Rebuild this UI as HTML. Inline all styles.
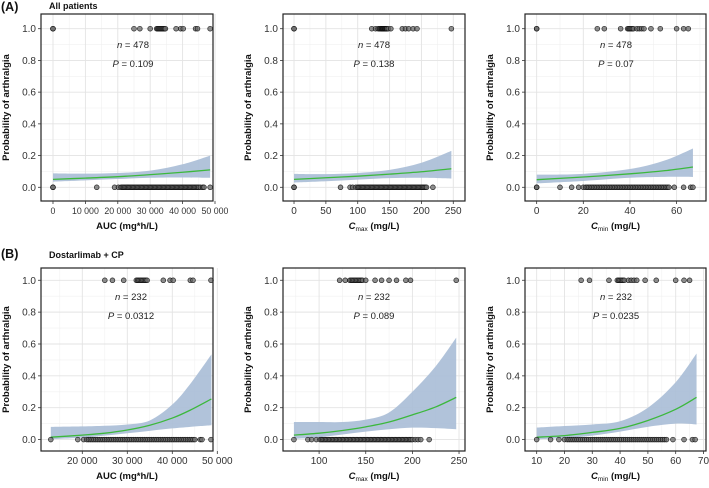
<!DOCTYPE html>
<html><head><meta charset="utf-8"><style>
body{margin:0;background:#fff;}
svg{display:block;font-family:"Liberation Sans",Arial,sans-serif;}
</style></head><body>
<svg id="fig" width="709" height="488" viewBox="0 0 709 488">
<text x="1" y="11" font-size="12.5" font-weight="bold" fill="#111">(A)</text>
<text x="49" y="9" font-size="9" font-weight="bold" fill="#111">All patients</text>
<text x="1" y="258" font-size="12.5" font-weight="bold" fill="#111">(B)</text>
<text x="49" y="258" font-size="9" font-weight="bold" fill="#111">Dostarlimab + CP</text>
</svg>
<script>
// ---- Data ----
const a1Events = [0,0,25000,26800,30000,32000,32300,32600,32900,33200,33500,33800,34100,34400,34700,38000,39400,40200,44000,44600,48500];
const a1NoEvents = [0,0,13500,19000,20200,21000,21400,21800,22200,22600,23000,23400,23800,24200,24600,25000,25400,25800,26200,26600,27000,27400,27800,28200,28600,29000,29400,29800,30200,30600,31000,31400,31800,32200,32600,33000,33400,33800,34200,34600,35000,35400,35800,36200,36600,37000,37400,37800,38200,38600,39000,39400,39800,40200,40600,41000,41400,41800,42200,42600,43000,43400,43800,44200,44600,45000,45500,46200,46600,48500];
const a1FitX = [0,10000,20000,30000,40000,48500];
const a1Fit = [0.05,0.058,0.067,0.08,0.095,0.11];
const a1Lower = [0.036,0.044,0.052,0.06,0.062,0.06];
const a1Upper = [0.088,0.086,0.09,0.105,0.145,0.20];

const a2Events = [0,0,122,128,132,134,135.5,137,138,139,140,141,142,143,144,145,146,148,152,170,175,180,187,193,247];
const a2NoEvents = [0,0,73,88,92,97,100,102,104,106,108,110,112,114,116,118,120,122,124,126,128,130,132,134,136,138,140,142,144,146,148,150,152,154,156,158,160,162,164,166,168,170,172,174,176,178,180,182,184,186,188,190,192,194,196,198,200,202,204,206,208,218];
const a2FitX = [0,50,100,150,200,247];
const a2Fit = [0.05,0.06,0.07,0.083,0.098,0.117];
const a2Lower = [0.03,0.038,0.048,0.058,0.06,0.055];
const a2Upper = [0.085,0.083,0.09,0.11,0.155,0.23];

const a3Events = [0,0,26,29,36,39,39.5,40,40.5,41,41.5,43,44,45,46,49,53,60,63,65];
const a3NoEvents = [0,0,10,15,18,20,21,21.7,22.4,23.1,23.8,24.5,25.2,25.9,26.6,27.3,28,28.7,29.4,30.1,30.8,31.5,32.2,32.9,33.6,34.3,35,35.7,36.4,37.1,37.8,38.5,39.2,39.9,40.6,41.3,42,42.7,43.4,44.1,44.8,45.5,46.2,46.9,47.6,48.3,49,49.7,50.4,51.1,51.8,52.5,53.2,53.9,54.6,55.3,56,56.7,59,63,66,67];
const a3FitX = [0,20,40,55,67];
const a3Fit = [0.048,0.065,0.085,0.105,0.128];
const a3Lower = [0.025,0.04,0.06,0.066,0.065];
const a3Upper = [0.08,0.085,0.115,0.17,0.245];

const b1Events = [25000,26700,29200,32000,32300,32600,32900,33200,33500,33800,34100,34400,38000,39500,40200,44000,44600,48600];
const b1NoEvents = [13000,19000,20300,21000,21400,21800,22200,22600,23000,23400,23800,24200,24600,25000,25400,25800,26200,26600,27000,27400,27800,28200,28600,29000,29400,29800,30200,30600,31000,31400,31800,32200,32600,33000,33400,33800,34200,34600,35000,35400,35800,36200,36600,37000,37400,37800,38200,38600,39000,39400,39800,40200,40600,41000,41400,41800,42200,42600,43000,43400,43800,44200,44600,45000,46200,46600,48600];
const b1FitX = [13000,20000,25000,30000,35000,40000,44000,48700];
const b1Fit = [0.015,0.028,0.04,0.06,0.09,0.135,0.185,0.255];
const b1Lower = [0.002,0.012,0.025,0.04,0.055,0.07,0.08,0.09];
const b1Upper = [0.08,0.083,0.087,0.095,0.12,0.22,0.35,0.535];

const b2Events = [122,128,133,134.5,136,137.5,139,140.5,142,143.5,145,146.5,150,160,167,175,183,193,198,247];
const b2NoEvents = [73,88,92,97,101,102.5,104,105.5,107,108.5,110,111.5,113,114.5,116,117.5,119,120.5,122,123.5,125,126.5,128,129.5,131,132.5,134,135.5,137,138.5,140,141.5,143,144.5,146,147.5,149,150.5,152,153.5,155,156.5,158,159.5,161,162.5,164,165.5,167,168.5,170,171.5,173,174.5,176,177.5,179,180.5,182,183.5,185,186.5,188,189.5,191,192.5,194,195.5,197,198.5,200,203,206,209,218];
const b2FitX = [73,100,125,150,175,200,225,247];
const b2Fit = [0.028,0.04,0.057,0.08,0.11,0.155,0.205,0.265];
const b2Lower = [0.005,0.015,0.032,0.05,0.065,0.075,0.072,0.065];
const b2Upper = [0.11,0.11,0.11,0.125,0.17,0.3,0.46,0.64];

const b3Events = [26,29,36,39,39.5,40,40.5,41,41.5,43,44,45,46,49,53,60,63,65];
const b3NoEvents = [10,15,18,20,21,21.7,22.4,23.1,23.8,24.5,25.2,25.9,26.6,27.3,28,28.7,29.4,30.1,30.8,31.5,32.2,32.9,33.6,34.3,35,35.7,36.4,37.1,37.8,38.5,39.2,39.9,40.6,41.3,42,42.7,43.4,44.1,44.8,45.5,46.2,46.9,47.6,48.3,49,49.7,50.4,51.1,51.8,52.5,53.2,53.9,54.6,55.3,56,56.7,59,63,66,67];
const b3FitX = [10,20,30,40,50,60,67.5];
const b3Fit = [0.015,0.025,0.045,0.07,0.12,0.19,0.265];
const b3Lower = [0.002,0.01,0.025,0.05,0.08,0.1,0.095];
const b3Upper = [0.075,0.085,0.095,0.115,0.2,0.36,0.54];

const yTicks = [0,0.2,0.4,0.6,0.8,1.0];
const yTickLabels = ["0.0","0.2","0.4","0.6","0.8","1.0"];
const a1Ticks = [0,10000,20000,30000,40000,50000];
const a1TickLabels = ["0","10 000","20 000","30 000","40 000","50 000"];
const a2Ticks = [0,50,100,150,200,250];
const a2TickLabels = ["0","50","100","150","200","250"];
const a3Ticks = [0,20,40,60];
const a3TickLabels = ["0","20","40","60"];
const b1Ticks = [20000,30000,40000,50000];
const b1TickLabels = ["20 000","30 000","40 000","50 000"];
const b2Ticks = [100,150,200,250];
const b2TickLabels = ["100","150","200","250"];
const b3Ticks = [10,20,30,40,50,60,70];
const b3TickLabels = ["10","20","30","40","50","60","70"];

const NS = "http://www.w3.org/2000/svg";
const svg = document.getElementById('fig');
function mk(tag, attrs, parent){
  const e = document.createElementNS(NS, tag);
  for (const k in attrs) e.setAttribute(k, attrs[k]);
  (parent||svg).appendChild(e);
  return e;
}
function scale(d0,d1,r0,r1){ return v => r0 + (v-d0)/(d1-d0)*(r1-r0); }
function smooth(pts, start){
  let d = (start?'M':'L') + pts[0][0]+','+pts[0][1];
  for (let i=0;i<pts.length-1;i++){
    const p0=pts[Math.max(i-1,0)], p1=pts[i], p2=pts[i+1], p3=pts[Math.min(i+2,pts.length-1)];
    const c1=[p1[0]+(p2[0]-p0[0])/6, p1[1]+(p2[1]-p0[1])/6];
    const c2=[p2[0]-(p3[0]-p1[0])/6, p2[1]-(p3[1]-p1[1])/6];
    d += ' C'+c1[0]+','+c1[1]+' '+c2[0]+','+c2[1]+' '+p2[0]+','+p2[1];
  }
  return d;
}

function panel(cfg){
  const g = mk('g', {});
  
  
  const L=cfg.box[0], R=cfg.box[1], T=cfg.box[2], B=cfg.box[3];
  const X = scale(cfg.xd[0], cfg.xd[1], L, R);
  const Y = scale(cfg.yd[0], cfg.yd[1], B, T);
  for (let i=0;i<cfg.ticks.length-1;i++){
    const m=(cfg.ticks[i]+cfg.ticks[i+1])/2; const px=X(m);
    if(px>L&&px<R) mk('line',{x1:px,x2:px,y1:T,y2:B,stroke:'#f0f0f0','stroke-width':0.6},g);
  }
  if (cfg.ticks.length>1){ const st=cfg.ticks[1]-cfg.ticks[0];
    [cfg.ticks[0]-st/2, cfg.ticks[cfg.ticks.length-1]+st/2].forEach(m=>{const px=X(m); if(px>L&&px<R) mk('line',{x1:px,x2:px,y1:T,y2:B,stroke:'#f0f0f0','stroke-width':0.6},g);});
  }
  for (let i=0;i<yTicks.length-1;i++){ const py=Y((yTicks[i]+yTicks[i+1])/2);
    mk('line',{x1:L,x2:R,y1:py,y2:py,stroke:'#f0f0f0','stroke-width':0.6},g);}
  cfg.ticks.forEach(t=>{const px=X(t); mk('line',{x1:px,x2:px,y1:T,y2:B,stroke:'#e3e3e3','stroke-width':0.9},g);});
  yTicks.forEach(t=>{const py=Y(t); mk('line',{x1:L,x2:R,y1:py,y2:py,stroke:'#e3e3e3','stroke-width':0.9},g);});
  const upPts = cfg.fx.map((v,i)=>[X(v),Y(cfg.up[i])]);
  const loPts = cfg.fx.map((v,i)=>[X(v),Y(cfg.lo[i])]).reverse();
  const rib = mk('path',{d:smooth(upPts,true)+' '+smooth(loPts,false)+'Z',fill:'#a9bcd6','fill-opacity':0.9},g);
  
  
  const ln = mk('path',{d:smooth(cfg.fx.map((v,i)=>[X(v),Y(cfg.fit[i])]),true),fill:'none',stroke:'#3cb83c','stroke-width':1.3},g);
  
  
  [[cfg.ev,1],[cfg.nev,0]].forEach(([arr,yy])=>{
    arr.forEach(v=>{
      const c = mk('circle',{cx:X(v),cy:Y(yy),r:2.4,fill:'#6a6a6a','fill-opacity':0.75,stroke:'#000','stroke-opacity':0.8,'stroke-width':0.7},g);
      
      
    });
  });
  mk('rect',{x:L,y:T,width:R-L,height:B-T,fill:'none',stroke:'#222','stroke-width':1.2},g);
  yTicks.forEach((t,i)=>{const py=Y(t);
    mk('line',{x1:L-3,x2:L,y1:py,y2:py,stroke:'#333','stroke-width':0.8},g);
    const tx=mk('text',{x:L-5,y:py+3.5,'font-size':10,'text-anchor':'end',fill:'#333'},g); tx.textContent=yTickLabels[i];
    
    
  });
  cfg.ticks.forEach((t,i)=>{const px=X(t);
    mk('line',{x1:px,x2:px,y1:B,y2:B+3,stroke:'#333','stroke-width':0.8},g);
    const tx=mk('text',{x:px,y:B+13,'font-size':cfg.tfs||10,'text-anchor':'middle',fill:'#333'},g); tx.textContent=cfg.labels[i];
    
    
  });
  const yt=mk('text',{x:0,y:0,'font-size':9.5,'font-weight':'bold','text-anchor':'middle',fill:'#111',transform:`translate(${L-32},${(T+B)/2}) rotate(-90)`},g);
  yt.textContent='Probability of arthralgia';
  
  
  const xt=mk('text',{x:(L+R)/2,y:B+28,'font-size':9.5,'font-weight':'bold','text-anchor':'middle',fill:'#111'},g);
  
  
  if (cfg.sub){
    const a=mk('tspan',{'font-style':'italic'},xt); a.textContent='C';
    const b=mk('tspan',{'font-size':6.5,dy:2,'font-weight':'normal'},xt); b.textContent=cfg.sub;
    const c=mk('tspan',{dy:-2},xt); c.textContent=' (mg/L)';
  } else xt.textContent=cfg.xtitle;
  const ax=cfg.ann[0], ay=cfg.ann[1];
  const n=mk('text',{x:ax,y:ay,'font-size':9.5,'text-anchor':'middle',fill:'#222'},g);
  
  
  const ni=mk('tspan',{'font-style':'italic'},n); ni.textContent='n';
  const nt=mk('tspan',{},n); nt.textContent=' = '+cfg.n;
  const p=mk('text',{x:ax,y:ay+19,'font-size':9.5,'text-anchor':'middle',fill:'#222'},g);
  
  
  const pi=mk('tspan',{'font-style':'italic'},p); pi.textContent='P';
  const pt=mk('tspan',{},p); pt.textContent=' = '+cfg.p;
}
const topY=[-0.0864,1.0927], botY=[-0.0717,1.077];
panel({name:'panel-a-auc',box:[41,213,14,201],xd:[-3700,49383],yd:topY,ticks:a1Ticks,labels:a1TickLabels,tfs:8.8,ev:a1Events,nev:a1NoEvents,fx:a1FitX,fit:a1Fit,lo:a1Lower,up:a1Upper,xtitle:'AUC (mg*h/L)',ann:[133,48],n:478,p:'0.109'});
panel({name:'panel-a-cmax',box:[283,465,14,201],xd:[-17.3,268.4],yd:topY,ticks:a2Ticks,labels:a2TickLabels,ev:a2Events,nev:a2NoEvents,fx:a2FitX,fit:a2Fit,lo:a2Lower,up:a2Upper,sub:'max',ann:[374,48],n:478,p:'0.138'});
panel({name:'panel-a-cmin',box:[525,706,14,201],xd:[-5.0,72.6],yd:topY,ticks:a3Ticks,labels:a3TickLabels,ev:a3Events,nev:a3NoEvents,fx:a3FitX,fit:a3Fit,lo:a3Lower,up:a3Upper,sub:'min',ann:[616,48],n:478,p:'0.07'});
panel({name:'panel-b-auc',box:[41,213,268,451],xd:[10822,49044],yd:botY,ticks:b1Ticks,labels:b1TickLabels,ev:b1Events,nev:b1NoEvents,fx:b1FitX,fit:b1Fit,lo:b1Lower,up:b1Upper,xtitle:'AUC (mg*h/L)',ann:[131,300],n:232,p:'0.0312'});
panel({name:'panel-b-cmax',box:[283,465,268,451],xd:[61.3,256.4],yd:botY,ticks:b2Ticks,labels:b2TickLabels,ev:b2Events,nev:b2NoEvents,fx:b2FitX,fit:b2Fit,lo:b2Lower,up:b2Upper,sub:'max',ann:[374,300],n:232,p:'0.089'});
panel({name:'panel-b-cmin',box:[525,706,268,451],xd:[5.8,70.9],yd:botY,ticks:b3Ticks,labels:b3TickLabels,ev:b3Events,nev:b3NoEvents,fx:b3FitX,fit:b3Fit,lo:b3Lower,up:b3Upper,sub:'min',ann:[616,300],n:232,p:'0.0235'});
</script>
</body></html>
